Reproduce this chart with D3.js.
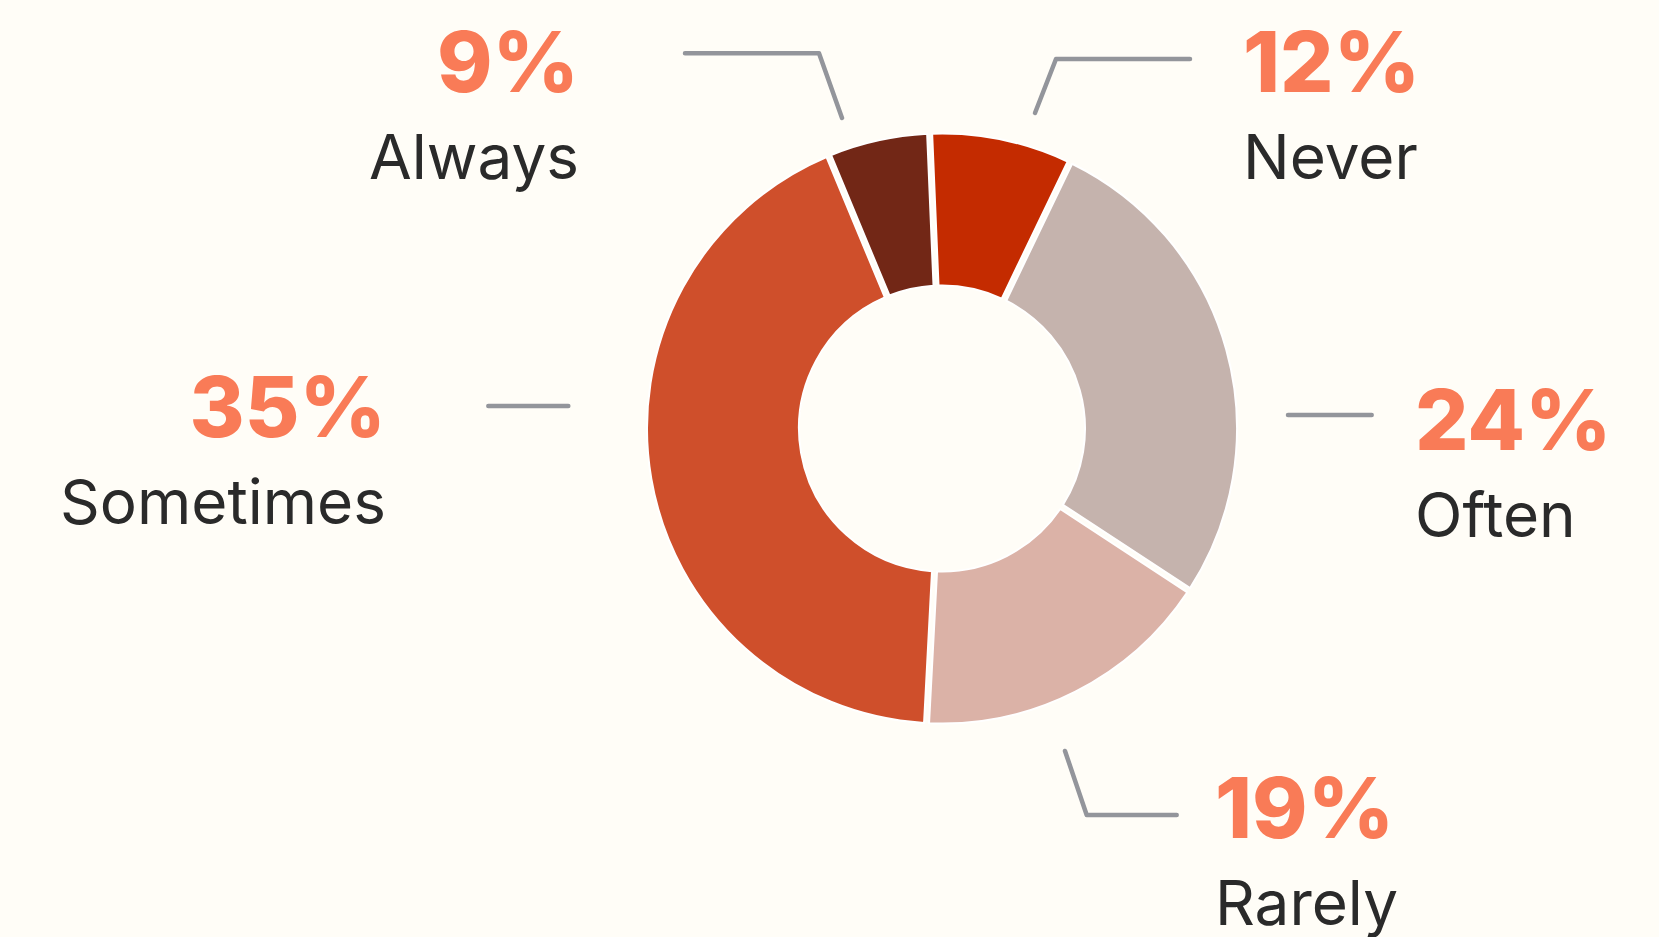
<!DOCTYPE html>
<html>
<head>
<meta charset="utf-8">
<script src="https://cdn.jsdelivr.net/npm/d3@7"></script>
<style>
  html, body { margin: 0; background: #fffdf7; }
  #wrap { position: relative; width: 1659px; height: 937px; overflow: hidden; }
  #wrap svg { position: absolute; left: 0; top: 0; }
  .lbl { position: absolute; white-space: nowrap; line-height: 1; font-family: Inter, sans-serif; }
</style>
</head>
<body>
<div id="wrap"><svg id="chart"></svg></div>
<script>
// categories in clockwise order starting at 12 o'clock
const categories = ["Never", "Often", "Rarely", "Sometimes", "Always"];
const shares = [7.8, 27.1, 16.6, 42.9, 5.6];
// percentages printed next to each slice
const labelPct = [12, 24, 19, 35, 9];
const colors = ["#c42b00", "#c5b3ad", "#dbb2a7", "#cf4f2b", "#722716"];

const width = 1659;
const height = 937;
const cx = 942, cy = 428.5;
const outerR = 295, innerR = 143;

// callout layout: leader points relative to the ring centre, text baselines in page pixels
const callouts = {
  Never:     { pts: [[93, -315.5], [114, -369.5], [248, -369.5]], anchor: "start", x: 1243, y: 93 },
  Often:     { pts: [[346, -13.5], [429.7, -13.5]], anchor: "start", x: 1415, y: 451 },
  Rarely:    { pts: [[123, 322.5], [144.7, 386.5], [234.7, 386.5]], anchor: "start", x: 1215, y: 839 },
  Sometimes: { pts: [[-373.7, -22.5], [-453.7, -22.5]], anchor: "end", x: 386, y: 438 },
  Always:    { pts: [[-100, -310.5], [-123, -375.2], [-257, -375.2]], anchor: "end", x: 579, y: 93 }
};

const svg = d3.select("#chart").attr("width", width).attr("height", height);
svg.append("rect").attr("width", width).attr("height", height).attr("fill", "#fffdf7");

const rad = d => d * Math.PI / 180;
const pie = d3.pie().sort(null).value(d => d.v)
  .startAngle(rad(-2.4)).endAngle(rad(357.6));
const arc = d3.arc().innerRadius(innerR).outerRadius(outerR)
  .padAngle(5 / 300).padRadius(300);

const data = categories.map((c, i) => ({ c, v: shares[i], p: labelPct[i], col: colors[i] }));

const g = svg.append("g").attr("transform", `translate(${cx},${cy})`);

g.selectAll("path.slice")
  .data(pie(data))
  .join("path")
  .attr("class", "slice")
  .attr("d", arc)
  .attr("fill", d => d.data.col)
  .attr("stroke", "#ffffff")
  .attr("stroke-width", 2)
  .attr("stroke-linejoin", "round");

// leader lines
const line = d3.line();
g.selectAll("path.leader")
  .data(data)
  .join("path")
  .attr("class", "leader")
  .attr("d", d => line(callouts[d.c].pts))
  .attr("fill", "none")
  .attr("stroke", "#93959b")
  .attr("stroke-width", 4.5)
  .attr("stroke-linecap", "round")
  .attr("stroke-linejoin", "round");

// labels as html text laid over the svg (baseline sits 0.864em below the top with line-height 1)
const wrap = d3.select("#wrap");
function addLabels(cls, size, weight, color, dy, txt) {
  wrap.selectAll("div." + cls)
    .data(data)
    .join("div")
    .attr("class", "lbl " + cls)
    .style("font-size", size + "px")
    .style("font-weight", weight)
    .style("color", color)
    .style("top", d => (callouts[d.c].y + dy - 0.864 * size) + "px")
    .style("left", d => callouts[d.c].anchor === "start" ? callouts[d.c].x + "px" : null)
    .style("right", d => callouts[d.c].anchor === "end" ? (width - callouts[d.c].x) + "px" : null)
    .text(txt);
}
addLabels("pct", 84, 800, "#f97b57", 0, d => d.p + "%");
addLabels("cat", 62, 400, "#2a2a2a", 87, d => d.c);
</script>
</body>
</html>
